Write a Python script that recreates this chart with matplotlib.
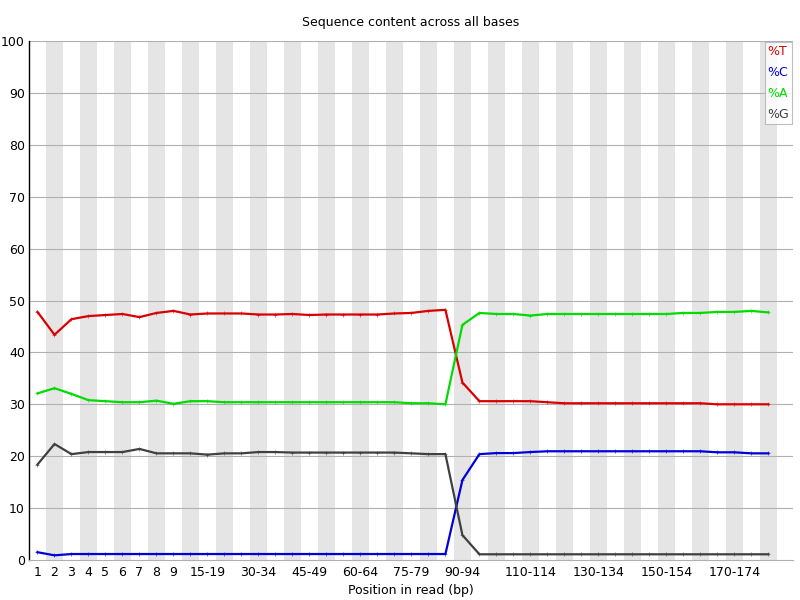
import matplotlib
matplotlib.use("Agg")
import matplotlib.pyplot as plt

# categories along the read (FastQC-style grouping)
positions = ['1', '2', '3', '4', '5', '6', '7', '8', '9',
             '10-14', '15-19', '20-24', '25-29', '30-34', '35-39', '40-44',
             '45-49', '50-54', '55-59', '60-64', '65-69', '70-74', '75-79',
             '80-84', '85-89', '90-94', '95-99', '100-104', '105-109',
             '110-114', '115-119', '120-124', '125-129', '130-134', '135-139',
             '140-144', '145-149', '150-154', '155-159', '160-164', '165-169',
             '170-174', '175-179', '180-184']
shown_labels = ['1', '2', '3', '4', '5', '6', '7', '8', '9', '15-19', '30-34',
                '45-49', '60-64', '75-79', '90-94', '110-114', '130-134',
                '150-154', '170-174']

pct_T = [47.8, 43.4, 46.4, 47.0, 47.2, 47.4, 46.8, 47.6, 48.0,
         47.3, 47.5, 47.5, 47.5, 47.3, 47.3,
         47.4, 47.2, 47.3, 47.3, 47.3, 47.3, 47.5, 47.6, 48.0, 48.2,
         34.2, 30.6, 30.6, 30.6, 30.6, 30.4,
         30.2, 30.2, 30.2, 30.2, 30.2, 30.2, 30.2, 30.2, 30.2,
         30.0, 30.0, 30.0, 30.0]
pct_C = [1.5, 0.9] + [1.15] * 23 + [15.4, 20.4, 20.6, 20.6, 20.8] + \
        [20.95] * 10 + [20.75, 20.75, 20.55, 20.55]
pct_A = [32.1, 33.1, 32.0, 30.8, 30.6, 30.4, 30.4, 30.7, 30.1,
         30.6, 30.6, 30.4, 30.4, 30.4, 30.4,
         30.4, 30.4, 30.4, 30.4, 30.4, 30.4, 30.4, 30.2, 30.2, 30.0,
         45.3, 47.6, 47.4, 47.4, 47.1,
         47.4, 47.4, 47.4, 47.4, 47.4, 47.4, 47.4, 47.4,
         47.6, 47.6, 47.8, 47.8, 48.0, 47.7]
pct_G = [18.4, 22.35, 20.4, 20.8, 20.8, 20.8, 21.4, 20.55, 20.55,
         20.55, 20.3, 20.55, 20.55, 20.8, 20.8,
         20.7, 20.7, 20.7, 20.7, 20.7, 20.7, 20.7, 20.55, 20.4, 20.4,
         4.8] + [1.1] * 18

x = list(range(len(positions)))

fig = plt.figure(figsize=(8, 6), dpi=100)
ax = fig.add_axes([29 / 800, 40 / 600, 764 / 800, 519 / 600])

# alternating grey stripes
for i in x:
    if i % 2 == 1:
        ax.axvspan(i - 0.5, i + 0.5, color='#e5e5e5', lw=0, zorder=0)

# horizontal grid lines
for v in range(10, 101, 10):
    ax.axhline(v, color='#b0b0b0', lw=0.8, zorder=1)

series = [('%T', pct_T, (0.86, 0, 0)),
          ('%C', pct_C, (0, 0, 0.86)),
          ('%A', pct_A, (0, 0.86, 0)),
          ('%G', pct_G, (0.25, 0.25, 0.25))]
for name, vals, col in series:
    ax.plot(x, vals, color=col, lw=1.6, label=name, zorder=3,
            marker='+', markersize=2.5, markeredgewidth=0.4)

ax.set_xlim(-0.5, 44.45)
ax.set_ylim(0, 100)
ax.set_yticks(range(0, 101, 10))
tick_pos = [positions.index(l) for l in shown_labels]
ax.set_xticks(tick_pos)
ax.set_xticklabels(shown_labels)
ax.tick_params(length=0, labelsize=9, pad=4)
ax.tick_params(axis='y', pad=3)

for s in ['top', 'right']:
    ax.spines[s].set_visible(False)
ax.spines['left'].set_color('black')
ax.spines['left'].set_linewidth(1)
ax.spines['bottom'].set_color('#b0b0b0')
ax.spines['bottom'].set_linewidth(0.8)

ax.set_title('Sequence content across all bases', fontsize=9, pad=11)
ax.set_xlabel('Position in read (bp)', fontsize=9, labelpad=4)

leg = ax.legend(loc='upper right', handlelength=0, handletextpad=0,
                labelcolor='linecolor', fontsize=9, frameon=True,
                fancybox=False, borderaxespad=0.1, labelspacing=0.65,
                borderpad=0.2, markerscale=0)
leg.get_frame().set_edgecolor('#b0b0b0')
leg.get_frame().set_linewidth(0.8)
for h in leg.legend_handles:
    h.set_visible(False)

fig.savefig('out.png', dpi=100)
